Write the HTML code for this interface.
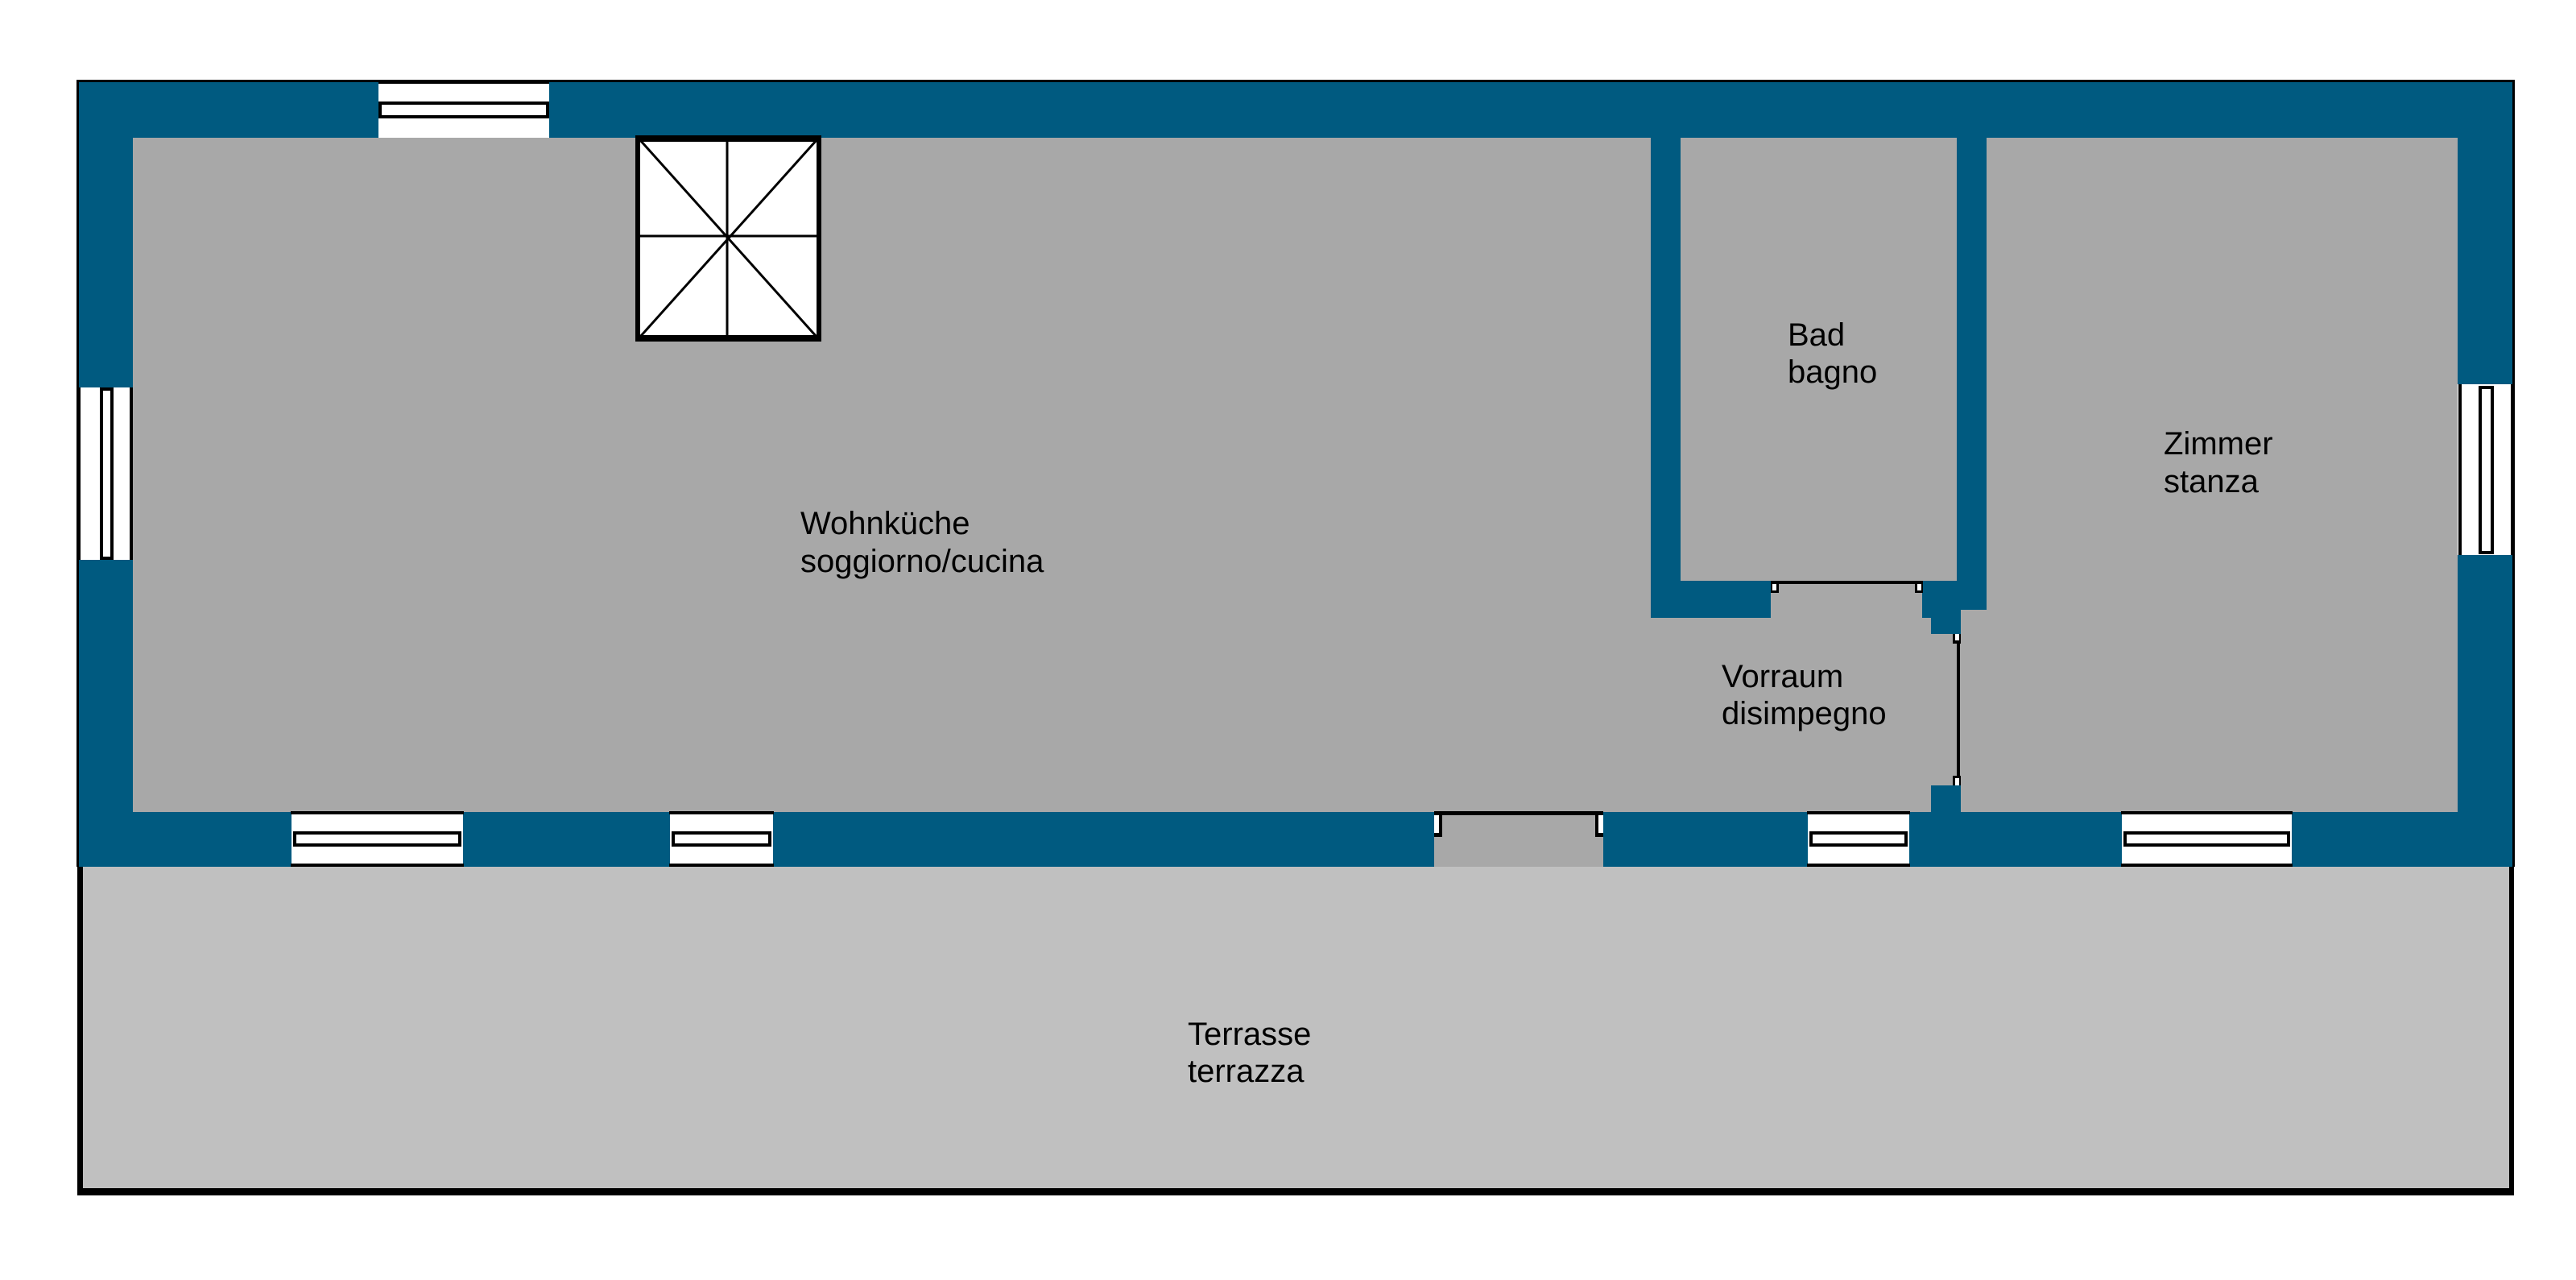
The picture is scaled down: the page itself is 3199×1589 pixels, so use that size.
<!DOCTYPE html>
<html><head><meta charset="utf-8"><style>
html,body{margin:0;padding:0;background:#fff;}
svg{display:block;}
text{font-family:"Liberation Sans",sans-serif;font-size:40px;fill:#000;}
</style></head><body>
<svg width="3199" height="1589" viewBox="0 0 3199 1589" xmlns="http://www.w3.org/2000/svg">
<!-- terrace -->
<rect x="96" y="1076" width="3026" height="404" fill="#c0c0c0"/>
<rect x="96" y="1076" width="7" height="408" fill="#000"/>
<rect x="3116" y="1076" width="6" height="408" fill="#000"/>
<rect x="96" y="1475" width="3026" height="9" fill="#000"/>
<!-- building walls -->
<rect x="96" y="100" width="3027" height="976" fill="#005a80"/>
<rect x="96" y="99" width="3027" height="3" fill="#000"/>
<rect x="95" y="99" width="3" height="977" fill="#000"/>
<rect x="3120" y="99" width="3" height="977" fill="#000"/>
<!-- floors -->
<rect x="165" y="171" width="1885" height="837" fill="#a8a8a8"/>
<rect x="2050" y="767" width="400" height="241" fill="#a8a8a8"/>
<rect x="2087" y="171" width="343" height="550" fill="#a8a8a8"/>
<rect x="2467" y="171" width="585" height="837" fill="#a8a8a8"/>
<rect x="2435" y="757" width="40" height="251" fill="#a8a8a8"/>
<rect x="2199" y="720" width="188" height="50" fill="#a8a8a8"/>
<!-- inner wall pieces -->
<rect x="2050" y="171" width="37" height="596" fill="#005a80"/>
<rect x="2087" y="721" width="112" height="37" fill="#005a80"/>
<rect x="2430" y="171" width="37" height="586" fill="#005a80"/>
<rect x="2387" y="721" width="80" height="36" fill="#005a80"/>
<rect x="2398" y="757" width="37" height="30" fill="#005a80"/>
<rect x="2398" y="975" width="37" height="33" fill="#005a80"/>
<!-- bath door -->
<rect x="2199" y="721" width="188" height="4" fill="#000"/>
<rect x="2199" y="721" width="10" height="15" fill="#000"/><rect x="2201" y="725" width="5" height="8" fill="#fff"/>
<rect x="2378" y="721" width="10" height="15" fill="#000"/><rect x="2381" y="725" width="5" height="8" fill="#fff"/>
<!-- vorraum door -->
<rect x="2430" y="787" width="4" height="188" fill="#000"/>
<rect x="2425" y="787" width="10" height="12" fill="#000"/><rect x="2428" y="787" width="5" height="8" fill="#fff"/>
<rect x="2425" y="963" width="10" height="12" fill="#000"/><rect x="2428" y="966" width="5" height="9" fill="#fff"/>
<!-- entrance door -->
<rect x="1781" y="1007" width="210" height="69" fill="#a8a8a8"/>
<rect x="1781" y="1007" width="210" height="5" fill="#000"/>
<rect x="1781" y="1007" width="10" height="32" fill="#000"/><rect x="1781" y="1012" width="6" height="22" fill="#fff"/>
<rect x="1981" y="1007" width="10" height="32" fill="#000"/><rect x="1985" y="1012" width="6" height="22" fill="#fff"/>
<!-- top window -->
<rect x="470" y="100" width="212" height="71" fill="#fff"/>
<rect x="470" y="99" width="212" height="5" fill="#000"/>
<rect x="472" y="128" width="208" height="17" fill="#fff" stroke="#000" stroke-width="4"/>
<!-- left window -->
<rect x="96" y="481" width="69" height="214" fill="#fff"/>
<rect x="96" y="481" width="4" height="214" fill="#000"/>
<rect x="161" y="481" width="4" height="214" fill="#000"/>
<rect x="126" y="483" width="13" height="210" fill="#fff" stroke="#000" stroke-width="4"/>
<!-- right window -->
<rect x="3052" y="477" width="70" height="212" fill="#fff"/>
<rect x="3053" y="477" width="4" height="212" fill="#000"/>
<rect x="3118" y="477" width="4" height="212" fill="#000"/>
<rect x="3080" y="481" width="15" height="205" fill="#fff" stroke="#000" stroke-width="4"/>
<!-- bottom windows -->
<g>
<rect x="362" y="1008" width="213" height="67" fill="#fff"/>
<rect x="361" y="1007" width="215" height="4" fill="#000"/><rect x="361" y="1072" width="215" height="4" fill="#000"/>
<rect x="366" y="1034" width="205" height="15" fill="#fff" stroke="#000" stroke-width="4"/>
<rect x="832" y="1008" width="128" height="67" fill="#fff"/>
<rect x="831" y="1007" width="130" height="4" fill="#000"/><rect x="831" y="1072" width="130" height="4" fill="#000"/>
<rect x="836" y="1034" width="120" height="15" fill="#fff" stroke="#000" stroke-width="4"/>
<rect x="2245" y="1008" width="126" height="67" fill="#fff"/>
<rect x="2244" y="1007" width="128" height="4" fill="#000"/><rect x="2244" y="1072" width="128" height="4" fill="#000"/>
<rect x="2249" y="1034" width="118" height="15" fill="#fff" stroke="#000" stroke-width="4"/>
<rect x="2635" y="1008" width="211" height="67" fill="#fff"/>
<rect x="2634" y="1007" width="213" height="4" fill="#000"/><rect x="2634" y="1072" width="213" height="4" fill="#000"/>
<rect x="2639" y="1034" width="203" height="15" fill="#fff" stroke="#000" stroke-width="4"/>
</g>
<!-- skylight -->
<rect x="792" y="171" width="225" height="250" fill="#fff" stroke="#000" stroke-width="6"/>
<line x1="792" y1="293" x2="1017" y2="293" stroke="#000" stroke-width="3"/>
<line x1="903" y1="171" x2="903" y2="421" stroke="#000" stroke-width="3"/>
<line x1="795" y1="174" x2="1014" y2="418" stroke="#000" stroke-width="3"/>
<line x1="1014" y1="174" x2="795" y2="418" stroke="#000" stroke-width="3"/>
<rect x="789" y="168" width="231" height="8" fill="#000"/>
<rect x="789" y="416" width="231" height="8" fill="#000"/>
<!-- labels -->
<text x="994" y="663">Wohnküche</text>
<text x="994" y="710">soggiorno/cucina</text>
<text x="2220" y="429">Bad</text>
<text x="2220" y="475">bagno</text>
<text x="2687" y="564">Zimmer</text>
<text x="2687" y="611">stanza</text>
<text x="2138" y="853">Vorraum</text>
<text x="2138" y="899">disimpegno</text>
<text x="1475" y="1297">Terrasse</text>
<text x="1475" y="1343">terrazza</text>
</svg>
</body></html>
